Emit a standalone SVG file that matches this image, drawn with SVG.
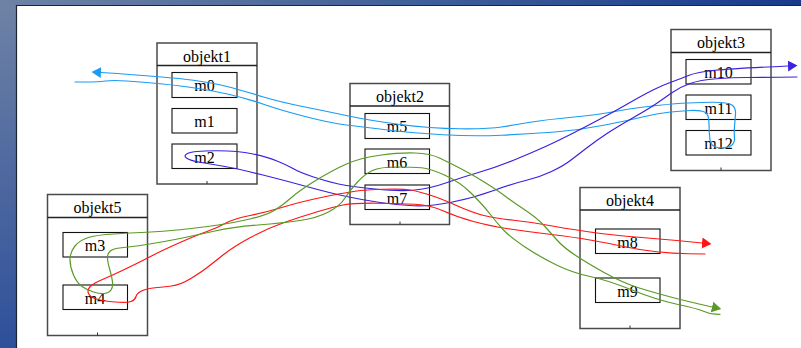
<svg xmlns="http://www.w3.org/2000/svg" width="801" height="348" viewBox="0 0 801 348">
  <defs>
    <linearGradient id="frameTop" x1="0" y1="0" x2="1" y2="0">
      <stop offset="0" stop-color="#6e82a5"/>
      <stop offset="0.5" stop-color="#42619a"/>
      <stop offset="1" stop-color="#173a8c"/>
    </linearGradient>
    <linearGradient id="frameLeft" x1="0" y1="0" x2="0" y2="1">
      <stop offset="0" stop-color="#6e82a5"/>
      <stop offset="1" stop-color="#2e4f9a"/>
    </linearGradient>
    <marker id="arrowCyan" markerUnits="userSpaceOnUse" viewBox="0 -6 10 12" markerWidth="10" markerHeight="12" refX="0" refY="0" orient="auto">
      <path d="M0,-5.5 L9.5,0 L0,5.5 z" fill="#1a9cf2"/>
    </marker>
    <marker id="arrowBlue" markerUnits="userSpaceOnUse" viewBox="0 -6 10 12" markerWidth="10" markerHeight="12" refX="0" refY="0" orient="auto">
      <path d="M0,-5.5 L9.5,0 L0,5.5 z" fill="#3a22e0"/>
    </marker>
    <marker id="arrowRed" markerUnits="userSpaceOnUse" viewBox="0 -6 10 12" markerWidth="10" markerHeight="12" refX="0" refY="0" orient="auto">
      <path d="M0,-5.5 L9.5,0 L0,5.5 z" fill="#ff1414"/>
    </marker>
    <marker id="arrowGreen" markerUnits="userSpaceOnUse" viewBox="0 -6 10 12" markerWidth="10" markerHeight="12" refX="0" refY="0" orient="auto">
      <path d="M0,-5.5 L9.5,0 L0,5.5 z" fill="#5a9a26"/>
    </marker>
  </defs>
  <style>
    .obj { fill: #ffffff; stroke: #4a4a4a; stroke-width: 1.5; }
    .hdr { stroke: #222222; stroke-width: 1.3; fill: none; }
    .meth { fill: #ffffff; stroke: #111111; stroke-width: 1.1; }
    .tick { stroke: #333333; stroke-width: 1; }
    .title, .label { font-family: "Liberation Serif", "Times New Roman", serif; font-size: 16px; fill: #000000; text-anchor: middle; }
    .wire { fill: none; stroke-width: 1.2; stroke-linejoin: round; stroke-linecap: round; }
    .cyan { stroke: #1a9cf2; }
    .blue { stroke: #3a22e0; }
    .red { stroke: #ff1414; }
    .green { stroke: #5a9a26; }
  </style>

  <!-- window frame -->
  <rect x="0" y="0" width="801" height="348" fill="url(#frameTop)"/>
  <rect x="0" y="5" width="16" height="343" fill="url(#frameLeft)"/>
  <rect x="16" y="5" width="785" height="343" fill="#ffffff"/>
  <path d="M16.5,348 V5.5 H801" fill="none" stroke="#1e2430" stroke-width="1.2"/>

  <!-- objekt1 -->
  <g id="objekt1">
    <rect class="obj" x="157" y="43" width="100" height="141"/>
    <line class="hdr" x1="157" y1="65.5" x2="257" y2="65.5"/>
    <text class="title" x="207" y="61.5">objekt1</text>
    <g id="m0"><rect class="meth" x="172" y="72.5" width="65" height="25"/><text class="label" x="204.5" y="91">m0</text></g>
    <g id="m1"><rect class="meth" x="172" y="108.5" width="65" height="24.5"/><text class="label" x="204.5" y="126.5">m1</text></g>
    <g id="m2"><rect class="meth" x="172" y="144" width="65" height="24.5"/><text class="label" x="204.5" y="162.5">m2</text></g>
    <line class="tick" x1="207" y1="184" x2="207" y2="181"/>
  </g>

  <!-- objekt2 -->
  <g id="objekt2">
    <rect class="obj" x="350" y="83.5" width="99.5" height="141"/>
    <line class="hdr" x1="350" y1="106" x2="449.5" y2="106"/>
    <text class="title" x="400" y="101.5">objekt2</text>
    <g id="m5"><rect class="meth" x="365" y="113.5" width="64.5" height="25"/><text class="label" x="397" y="132">m5</text></g>
    <g id="m6"><rect class="meth" x="365" y="149" width="64.5" height="24.5"/><text class="label" x="397" y="167.5">m6</text></g>
    <g id="m7"><rect class="meth" x="365" y="185" width="64.5" height="24.5"/><text class="label" x="397" y="203.5">m7</text></g>
    <line class="tick" x1="400" y1="224.5" x2="400" y2="221.5"/>
  </g>

  <!-- objekt3 -->
  <g id="objekt3">
    <rect class="obj" x="671" y="29.5" width="100" height="141"/>
    <line class="hdr" x1="671" y1="52.5" x2="771" y2="52.5"/>
    <text class="title" x="721" y="47.5">objekt3</text>
    <g id="m10"><rect class="meth" x="686" y="59.5" width="65" height="24.5"/><text class="label" x="718.5" y="78">m10</text></g>
    <g id="m11"><rect class="meth" x="686" y="95" width="65" height="24.5"/><text class="label" x="718.5" y="113.5">m11</text></g>
    <g id="m12"><rect class="meth" x="686" y="130.5" width="65" height="24.5"/><text class="label" x="718.5" y="149">m12</text></g>
    <line class="tick" x1="721" y1="170.5" x2="721" y2="167.5"/>
  </g>

  <!-- objekt4 -->
  <g id="objekt4">
    <rect class="obj" x="580" y="187.5" width="100" height="141"/>
    <line class="hdr" x1="580" y1="210" x2="680" y2="210"/>
    <text class="title" x="630" y="205.5">objekt4</text>
    <g id="m8"><rect class="meth" x="595.5" y="229" width="64.5" height="24.5"/><text class="label" x="627.5" y="247.5">m8</text></g>
    <g id="m9"><rect class="meth" x="595.5" y="278" width="64.5" height="24.5"/><text class="label" x="627.5" y="296.5">m9</text></g>
    <line class="tick" x1="630" y1="328.5" x2="630" y2="325.5"/>
  </g>

  <!-- objekt5 -->
  <g id="objekt5">
    <rect class="obj" x="47.5" y="194.5" width="100" height="141"/>
    <line class="hdr" x1="47.5" y1="217.5" x2="147.5" y2="217.5"/>
    <text class="title" x="97.5" y="212.5">objekt5</text>
    <g id="m3"><rect class="meth" x="63" y="232.5" width="64.5" height="24.5"/><text class="label" x="95" y="251">m3</text></g>
    <g id="m4"><rect class="meth" x="63" y="285" width="64.5" height="24.5"/><text class="label" x="95" y="303.5">m4</text></g>
    <line class="tick" x1="97.5" y1="335.5" x2="97.5" y2="332.5"/>
  </g>

  <!-- call traces -->
  <g id="connectors">
    <path class="wire cyan" marker-end="url(#arrowCyan)" d="M75,82 L86.5,82 Q98,82 105.5,81 Q113,80 126.5,81 Q140,82 155,83.25 Q170,84.5 190,87.25 Q210,90 228.5,94.25 Q247,98.5 263.5,104.25 Q280,110 305,116.5 Q330,123 346.5,125 Q363,127 388,130 Q413,133 443,134.75 Q473,136.5 501.5,135.25 Q530,134 555,132 Q580,130 605,125 Q630,120 643.5,116.75 Q657,113.5 668.5,112.25 Q680,111 690,110.5 Q700,110 704.5,112 Q709,114 709,123.5 Q709,133 710,140 Q711,147 719,147.75 Q727,148.5 731,145.75 Q735,143 734.5,138 Q734,133 734.5,126.5 Q735,120 735.5,114 Q736,108 732,105 Q728,102 710.5,102.25 Q693,102.5 681.5,103.25 Q670,104 650,106.25 Q630,108.5 613.5,111.75 Q597,115 572,117.25 Q547,119.5 530,122.25 Q513,125 501.5,127 Q490,129 460,128.75 Q430,128.5 398.5,124.25 Q367,120 348.5,116 Q330,112 305,107 Q280,102 263.5,97 Q247,92 232,87.75 Q217,83.5 193.5,80.25 Q170,77 101,72.5"/>
    <path class="wire blue" marker-end="url(#arrowBlue)" d="M797,77 L778.5,77.25 Q760,77.5 746.5,77.5 Q733,77.5 716.5,78.75 Q700,80 690,83.5 Q680,87 671.5,93 Q663,99 656.5,103.5 Q650,108 633.5,117.5 Q617,127 607,133.5 Q597,140 586,148.5 Q575,157 569,161.5 Q563,166 551.5,171.5 Q540,177 526.5,180.25 Q513,183.5 493,190.75 Q473,198 451.5,202.25 Q430,206.5 413.5,205.75 Q397,205 380,202.5 Q363,200 346.5,196.5 Q330,193 306.5,186.5 Q283,180 260,174.25 Q237,168.5 223.5,166.25 Q210,164 200,162.25 Q190,160.5 186.5,158 Q183,155.5 188,153.25 Q193,151 215,150.75 Q237,150.5 252,153.75 Q267,157 277,161 Q287,165 293.5,168.75 Q300,172.5 313.5,177 Q327,181.5 338.5,184 Q350,186.5 375,189 Q400,191.5 415,190 Q430,188.5 446.5,182.75 Q463,177 480,172 Q497,167 513.5,160.25 Q530,153.5 545,146.75 Q560,140 585,127 Q610,114 626.5,104.5 Q643,95 653,90 Q663,85 671.5,82 Q680,79 688.5,75.5 Q697,72 715,70.25 Q733,68.5 788,66"/>
    <path class="wire red" marker-end="url(#arrowRed)" d="M705,254 L689,253.75 Q673,253.5 656.5,251.75 Q640,250 623.5,246.5 Q607,243 590,240 Q573,237 551.5,234.5 Q530,232 510,229 Q490,226 473.5,221.5 Q457,217 443.5,211 Q430,205 415,204.25 Q400,203.5 376.5,203.25 Q353,203 343,205 Q333,207 316.5,212 Q300,217 283.5,222.75 Q267,228.5 250,237.75 Q233,247 223,255 Q213,263 206.5,268 Q200,273 190,279 Q180,285 171.5,286 Q163,287 155,287.75 Q147,288.5 142,290.75 Q137,293 136,296.5 Q135,300 131,301.5 Q127,303 115,302 Q103,301 96.5,299 Q90,297 88.5,293.5 Q87,290 90,286.75 Q93,283.5 103,279.25 Q113,275 126.5,268.5 Q140,262 151.5,256 Q163,250 180,242.5 Q197,235 207,231.5 Q217,228 225,223.5 Q233,219 250,215.5 Q267,212 283.5,207 Q300,202 320,197.75 Q340,193.5 353.5,191.5 Q367,189.5 383.5,189.25 Q400,189 406.5,189.5 Q413,190 426.5,194 Q440,198 456.5,205.5 Q473,213 485,215.75 Q497,218.5 513.5,220.25 Q530,222 546.5,225 Q563,228 586.5,231.5 Q610,235 641.5,237.5 Q673,240 702,243"/>
    <path class="wire green" marker-end="url(#arrowGreen)" d="M720,314.3 L715,314.15 Q710,314 703.5,311.25 Q697,308.5 677,304.25 Q657,300 632,290 Q607,280 590,276.5 Q573,273 556.5,265 Q540,257 525,247 Q510,237 503.5,230 Q497,223 490,214 Q483,205 471.5,193.5 Q460,182 445,175.25 Q430,168.5 421.5,167.75 Q413,167 396.5,167 Q380,167 372.5,170.5 Q365,174 357.5,182 Q350,190 345,198 Q340,206 328.5,212 Q317,218 300,220.5 Q283,223 258,225 Q233,227 215,231 Q197,235 180,238.5 Q163,242 146.5,244.5 Q130,247 121.5,247.75 Q113,248.5 110,251.25 Q107,254 107.5,259 Q108,264 110,270.5 Q112,277 112.5,282 Q113,287 111,290 Q109,293 104.5,293.5 Q100,294 93.5,292 Q87,290 82,286.5 Q77,283 73.5,275 Q70,267 70,259.5 Q70,252 75,246 Q80,240 88.5,237.5 Q97,235 113.5,234 Q130,233 146.5,232.25 Q163,231.5 180,229.75 Q197,228 215,225.5 Q233,223 250,219 Q267,215 275,210 Q283,205 291.5,197.5 Q300,190 316.5,180 Q333,170 346.5,164 Q360,158 380,155.25 Q400,152.5 415,153 Q430,153.5 440,158.25 Q450,163 461.5,169 Q473,175 485,182.5 Q497,190 505,196 Q513,202 525,210 Q537,218 543.5,225 Q550,232 556.5,239.5 Q563,247 575,255 Q587,263 605,273 Q623,283 640,288.25 Q657,293.5 673.5,297.75 Q690,302 712,307"/>
  </g>
</svg>
